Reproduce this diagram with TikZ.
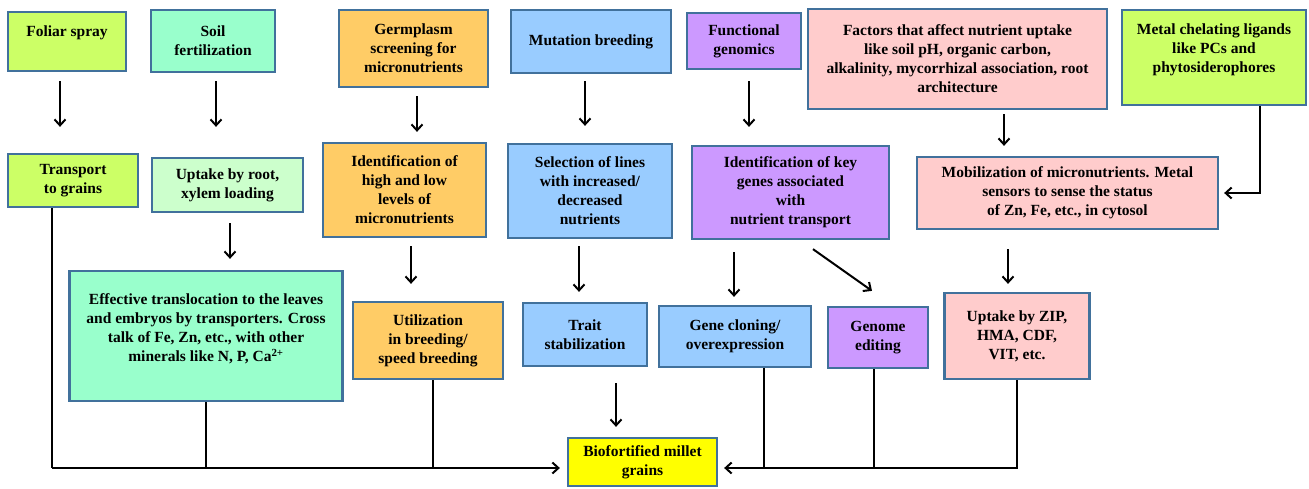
\documentclass[tikz,border=0pt]{standalone}
\usepackage{fontspec}
\setmainfont{Liberation Serif}
\usetikzlibrary{arrows.meta}

\definecolor{edgeblue}{RGB}{65,113,156}
\definecolor{lime}{HTML}{CCFF66}
\definecolor{mint}{HTML}{99FFCC}
\definecolor{palemint}{HTML}{CCFFCC}
\definecolor{apricot}{HTML}{FFCC66}
\definecolor{skyblue}{HTML}{99CCFF}
\definecolor{lilac}{HTML}{CC99FF}
\definecolor{blush}{HTML}{FFCCCC}
\definecolor{gold}{HTML}{FFFF00}

\tikzset{
  box/.style={draw=edgeblue, line width=2.3pt, align=center, inner sep=1pt,
    font=\bfseries\fontsize{15.5}{19}\selectfont},
  sz/.style 2 args={minimum width=#1pt, minimum height=#2pt},
  arr/.style={line width=2pt, -{Straight Barb[length=6pt,width=11pt]}},
  bus/.style={line width=2pt},
}

\begin{document}
\begin{tikzpicture}[x=1pt,y=-1pt]
\useasboundingbox (0,0) rectangle (1309,488);

% top row
\node[box, fill=lime, sz={118}{59}, text depth=20pt] (foliar) at (67,41.5) {Foliar spray};
\node[box, fill=mint, sz={124}{62}] (soil) at (213,41) {Soil\\fertilization};
\node[box, fill=apricot, sz={149}{77}] (germ) at (413.5,48.5) {Germplasm\\screening for\\micronutrients};
\node[box, fill=skyblue, sz={160}{63}] (mut) at (591,41.5) {Mutation breeding};
\node[box, fill=lilac, sz={114}{56}] (func) at (744,41) {Functional\\genomics};
\node[box, fill=blush, sz={299}{100}] (factors) at (957.5,59) {Factors that affect nutrient uptake\\like soil pH, organic carbon,\\alkalinity, mycorrhizal association, root\\architecture};
\node[box, fill=lime, sz={184}{95}, text depth=19pt] (metal) at (1214,57.5) {Metal chelating ligands\\like PCs and\\phytosiderophores};

% middle row
\node[box, fill=lime, sz={130}{53}] (transport) at (73,180.5) {Transport\\to grains};
\node[box, fill=palemint, sz={151}{54}] (uptake) at (227.5,185) {Uptake by root,\\xylem loading};
\node[box, fill=apricot, sz={163}{94}] (ident) at (404.5,190) {Identification of\\high and low\\levels of\\micronutrients};
\node[box, fill=skyblue, sz={164}{94}] (select) at (590,191) {Selection of lines\\with increased/\\decreased\\nutrients};
\node[box, fill=lilac, sz={197}{93}] (keygenes) at (790.5,192.5) {Identification of key\\genes associated\\with\\nutrient transport};
\node[box, fill=blush, sz={301}{72}] (mobil) at (1067.5,193) {Mobilization of micronutrients. Metal\\sensors to sense the status\\of Zn, Fe, etc., in cytosol};

% lower row
\node[box, fill=mint, sz={273}{130}, text depth=16pt] (effective) at (206,336) {Effective translocation to the leaves\\and embryos by transporters. Cross\\talk of Fe, Zn, etc., with other\\minerals like N, P, Ca\textsuperscript{2+}};
\node[box, fill=apricot, sz={150}{77}] (util) at (428,340.5) {Utilization\\in breeding/\\speed breeding};
\node[box, fill=skyblue, sz={124}{63}] (trait) at (585,334.5) {Trait\\stabilization};
\node[box, fill=skyblue, sz={152}{61}] (genecl) at (735,336.5) {Gene cloning/\\overexpression};
\node[box, fill=lilac, sz={100}{61}] (edit) at (878,337.5) {Genome\\editing};
\node[box, fill=blush, sz={145}{86}] (zip) at (1017,336) {Uptake by ZIP,\\HMA, CDF,\\VIT, etc.};

\node[box, fill=gold, sz={149}{48}] (bio) at (642.5,462) {Biofortified millet\\grains};

% straight down arrows: from/to/x/gap above/gap below
\foreach \a/\b/\x/\s/\e in {foliar/transport/60/9/26, soil/uptake/216/8/30,
    germ/ident/417/8/10, mut/select/585/7/17, func/keygenes/749/11/18,
    factors/mobil/1004/4/10, uptake/effective/230/10/11, ident/util/411/8/17,
    select/trait/579/7/10, keygenes/genecl/734/12/8, mobil/zip/1008/19/8,
    trait/bio/616/16/10} {
    \draw[arr, shorten <=\s pt, shorten >=\e pt] (\a.south -| \x,0) -- (\b.north -| \x,0);
}
\draw[arr] ([shift={(22.5,9)}]keygenes.south) -- ([shift={(-6,-15)}]edit.north);
\draw[arr, shorten >=5pt] ([xshift=46pt]metal.south) |- (mobil.east);

% collecting lines into the grains box
\coordinate (busL) at (52,468);
\coordinate (busR) at (1017,468);
\draw[bus] (transport.south -| busL) -- (busL);
\draw[bus] (effective.south) -- (effective.south |- busL);
\draw[bus] ([xshift=5pt]util.south) -- ([xshift=5pt]util.south |- busL);
\draw[arr, shorten >=7pt] (busL) -- (bio.west |- busL);
\draw[bus] ([xshift=29pt]genecl.south) -- ([xshift=29pt]genecl.south |- busR);
\draw[bus] ([xshift=-4pt]edit.south) -- ([xshift=-4pt]edit.south |- busR);
\draw[arr, shorten >=6pt] (zip.south) -- (busR) -- (bio.east |- busR);
\end{tikzpicture}
\end{document}
